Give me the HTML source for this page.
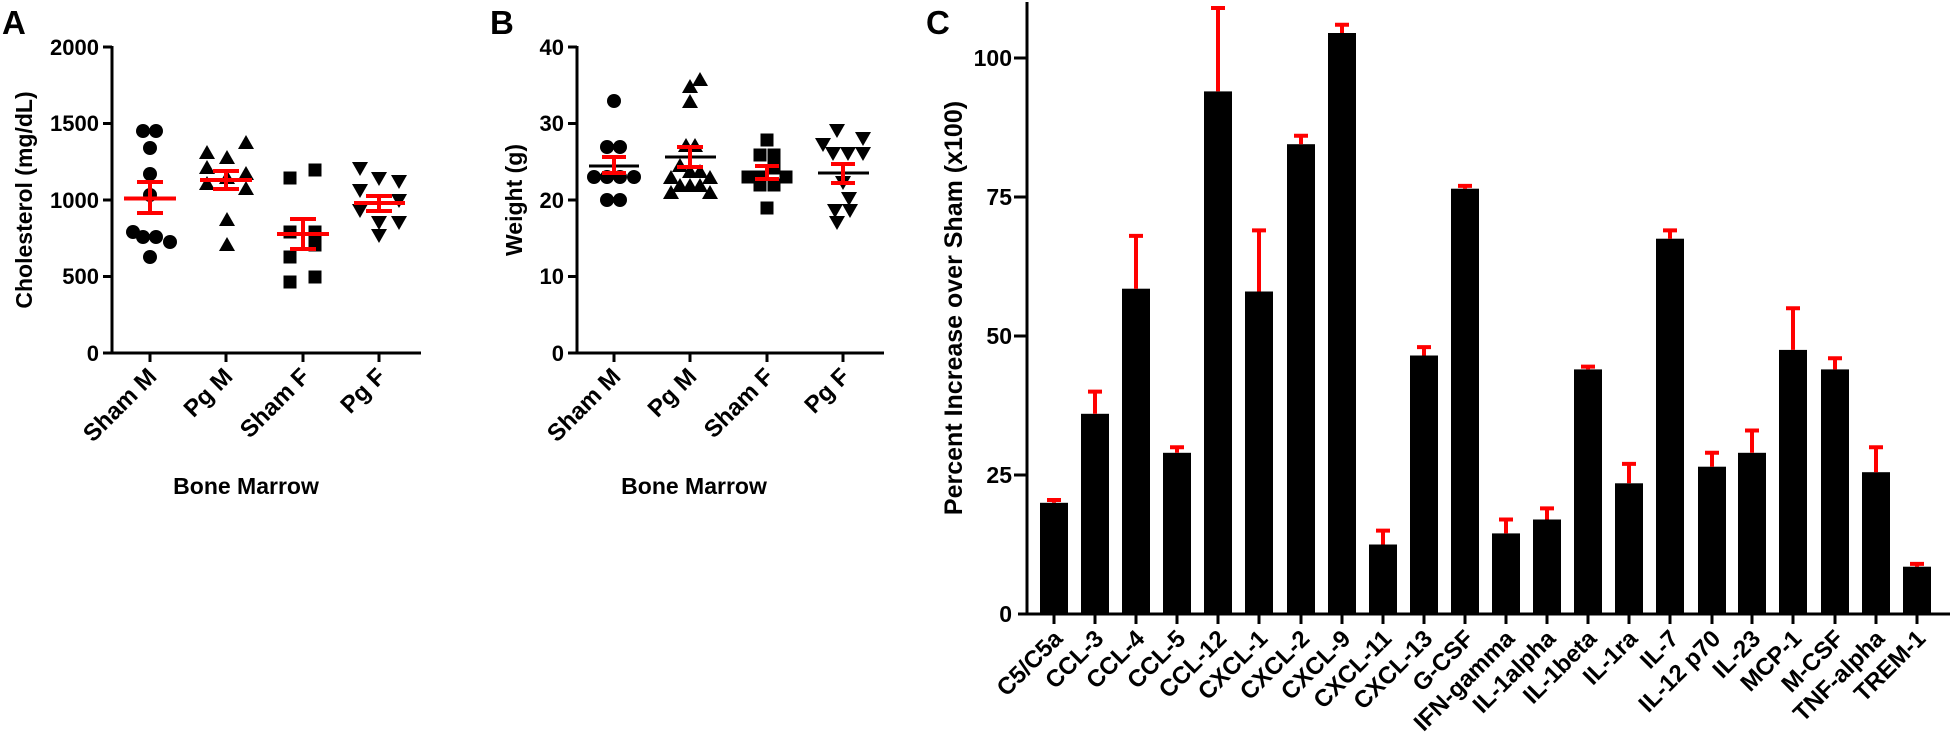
<!DOCTYPE html>
<html><head><meta charset="utf-8"><style>
html,body{margin:0;padding:0;background:#fff;}
svg{display:block;font-family:"Liberation Sans",Arial,sans-serif;font-weight:bold;}
</style></head><body>
<svg width="1950" height="735" viewBox="0 0 1950 735" xmlns="http://www.w3.org/2000/svg">
<defs>
<circle id="ci" r="7" fill="#000"/>
<polygon id="tr" points="0,-8 8,6 -8,6" fill="#000"/>
<rect id="sq" x="-6.5" y="-6.5" width="13" height="13" fill="#000"/>
<polygon id="dt" points="-8,-6 8,-6 0,8" fill="#000"/>
</defs>
<text x="2" y="34" font-size="33">A</text>
<text x="490" y="34" font-size="33">B</text>
<text x="926" y="34" font-size="33">C</text>

<!-- ===== Panel A ===== -->
<g stroke="#000" stroke-width="3" fill="none">
<line x1="112" y1="46" x2="112" y2="354"/>
<line x1="103" y1="353" x2="421" y2="353"/>
<line x1="103" y1="47" x2="112" y2="47"/>
<line x1="103" y1="123.5" x2="112" y2="123.5"/>
<line x1="103" y1="200" x2="112" y2="200"/>
<line x1="103" y1="276.5" x2="112" y2="276.5"/>
<line x1="150" y1="353" x2="150" y2="362"/>
<line x1="226" y1="353" x2="226" y2="362"/>
<line x1="303" y1="353" x2="303" y2="362"/>
<line x1="379" y1="353" x2="379" y2="362"/>
</g>
<g font-size="22" text-anchor="end">
<text x="99" y="55">2000</text>
<text x="99" y="131">1500</text>
<text x="99" y="208">1000</text>
<text x="99" y="284">500</text>
<text x="99" y="361">0</text>
</g>
<text transform="translate(32,200) rotate(-90)" font-size="23" text-anchor="middle">Cholesterol (mg/dL)</text>
<g font-size="24" text-anchor="end">
<text transform="translate(158,378) rotate(-45)">Sham M</text>
<text transform="translate(234,378) rotate(-45)">Pg M</text>
<text transform="translate(311,378) rotate(-45)">Sham F</text>
<text transform="translate(387,378) rotate(-45)">Pg F</text>
</g>
<text x="246" y="494" font-size="23" text-anchor="middle">Bone Marrow</text>
<g>
<use href="#ci" x="143" y="131"/><use href="#ci" x="156" y="131"/><use href="#ci" x="150" y="148"/>
<use href="#ci" x="150" y="174"/><use href="#ci" x="150" y="195"/><use href="#ci" x="133" y="232"/>
<use href="#ci" x="143" y="237"/><use href="#ci" x="156" y="237"/><use href="#ci" x="170" y="242"/>
<use href="#ci" x="150" y="257"/>
<use href="#tr" x="207" y="153"/><use href="#tr" x="227" y="158"/><use href="#tr" x="246" y="143"/>
<use href="#tr" x="207" y="168"/><use href="#tr" x="246" y="174"/><use href="#tr" x="207" y="184"/>
<use href="#tr" x="227" y="178"/><use href="#tr" x="246" y="189"/><use href="#tr" x="227" y="220"/>
<use href="#tr" x="227" y="245"/>
<use href="#sq" x="290" y="178"/><use href="#sq" x="315" y="170"/><use href="#sq" x="290" y="232"/>
<use href="#sq" x="315" y="232"/><use href="#sq" x="315" y="245"/><use href="#sq" x="290" y="257"/>
<use href="#sq" x="315" y="277"/><use href="#sq" x="290" y="282"/>
<use href="#dt" x="360" y="168"/><use href="#dt" x="379" y="178"/><use href="#dt" x="360" y="190"/>
<use href="#dt" x="399" y="200"/><use href="#dt" x="360" y="210"/><use href="#dt" x="379" y="222"/>
<use href="#dt" x="399" y="222"/><use href="#dt" x="379" y="235"/><use href="#dt" x="399" y="181"/>
</g>
<g stroke="#f00" stroke-width="4">
<line x1="124" y1="198.5" x2="176" y2="198.5"/>
<line x1="150" y1="182" x2="150" y2="213"/>
<line x1="137" y1="182" x2="163" y2="182"/><line x1="137" y1="213" x2="163" y2="213"/>
<line x1="200" y1="180" x2="252" y2="180"/>
<line x1="226" y1="171" x2="226" y2="189"/>
<line x1="213" y1="171" x2="239" y2="171"/><line x1="213" y1="189" x2="239" y2="189"/>
<line x1="277" y1="234" x2="329" y2="234"/>
<line x1="303" y1="219" x2="303" y2="249"/>
<line x1="290" y1="219" x2="316" y2="219"/><line x1="290" y1="249" x2="316" y2="249"/>
<line x1="354" y1="203" x2="405" y2="203"/>
<line x1="379" y1="196" x2="379" y2="211"/>
<line x1="366" y1="196" x2="392" y2="196"/><line x1="366" y1="211" x2="392" y2="211"/>
</g>

<!-- ===== Panel B ===== -->
<g stroke="#000" stroke-width="3" fill="none">
<line x1="577" y1="46" x2="577" y2="354"/>
<line x1="568" y1="353" x2="884" y2="353"/>
<line x1="568" y1="47" x2="577" y2="47"/>
<line x1="568" y1="123.5" x2="577" y2="123.5"/>
<line x1="568" y1="200" x2="577" y2="200"/>
<line x1="568" y1="276.5" x2="577" y2="276.5"/>
<line x1="614" y1="353" x2="614" y2="362"/>
<line x1="690" y1="353" x2="690" y2="362"/>
<line x1="767" y1="353" x2="767" y2="362"/>
<line x1="843" y1="353" x2="843" y2="362"/>
</g>
<g font-size="22" text-anchor="end">
<text x="564" y="55">40</text>
<text x="564" y="131">30</text>
<text x="564" y="208">20</text>
<text x="564" y="284">10</text>
<text x="564" y="361">0</text>
</g>
<text transform="translate(522,200) rotate(-90)" font-size="23" text-anchor="middle">Weight (g)</text>
<g font-size="24" text-anchor="end">
<text transform="translate(622,378) rotate(-45)">Sham M</text>
<text transform="translate(698,378) rotate(-45)">Pg M</text>
<text transform="translate(775,378) rotate(-45)">Sham F</text>
<text transform="translate(851,378) rotate(-45)">Pg F</text>
</g>
<text x="694" y="494" font-size="23" text-anchor="middle">Bone Marrow</text>
<g>
<use href="#ci" x="614" y="101"/><use href="#ci" x="607" y="147"/><use href="#ci" x="620" y="147"/>
<use href="#ci" x="594" y="177"/><use href="#ci" x="607" y="177"/><use href="#ci" x="620" y="177"/>
<use href="#ci" x="634" y="177"/><use href="#ci" x="607" y="200"/><use href="#ci" x="620" y="200"/>
<use href="#tr" x="700" y="80"/><use href="#tr" x="690" y="87"/><use href="#tr" x="690" y="102"/>
<use href="#tr" x="686" y="146"/><use href="#tr" x="695" y="146"/><use href="#tr" x="680" y="166"/>
<use href="#tr" x="671" y="178"/><use href="#tr" x="690" y="172"/><use href="#tr" x="700" y="172"/>
<use href="#tr" x="710" y="178"/><use href="#tr" x="680" y="186"/><use href="#tr" x="690" y="186"/>
<use href="#tr" x="700" y="186"/><use href="#tr" x="671" y="193"/><use href="#tr" x="710" y="193"/>
<use href="#sq" x="767" y="140"/><use href="#sq" x="760" y="155"/><use href="#sq" x="774" y="155"/>
<use href="#sq" x="774" y="167"/><use href="#sq" x="748" y="177"/><use href="#sq" x="760" y="177"/>
<use href="#sq" x="786" y="177"/><use href="#sq" x="760" y="185"/><use href="#sq" x="774" y="185"/>
<use href="#sq" x="767" y="208"/>
<use href="#dt" x="837" y="130"/><use href="#dt" x="823" y="144"/><use href="#dt" x="863" y="138"/>
<use href="#dt" x="833" y="153"/><use href="#dt" x="848" y="153"/><use href="#dt" x="863" y="153"/>
<use href="#dt" x="843" y="182"/><use href="#dt" x="849" y="198"/><use href="#dt" x="835" y="210"/>
<use href="#dt" x="850" y="210"/><use href="#dt" x="837" y="222"/>
</g>
<g stroke="#000" stroke-width="3">
<line x1="589" y1="166" x2="639" y2="166"/>
<line x1="665" y1="157" x2="716" y2="157"/>
<line x1="742" y1="173" x2="792" y2="173"/>
<line x1="818" y1="173" x2="869" y2="173"/>
</g>
<g stroke="#f00" stroke-width="4">
<line x1="614" y1="157" x2="614" y2="173"/>
<line x1="602" y1="157" x2="626" y2="157"/><line x1="602" y1="173" x2="626" y2="173"/>
<line x1="690" y1="147" x2="690" y2="167"/>
<line x1="677" y1="147" x2="703" y2="147"/><line x1="677" y1="167" x2="703" y2="167"/>
<line x1="767" y1="166" x2="767" y2="179"/>
<line x1="755" y1="166" x2="779" y2="166"/><line x1="755" y1="179" x2="779" y2="179"/>
<line x1="843" y1="164" x2="843" y2="183"/>
<line x1="831" y1="164" x2="855" y2="164"/><line x1="831" y1="183" x2="855" y2="183"/>
</g>

<!-- ===== Panel C ===== -->
<g stroke="#000" stroke-width="3" fill="none">
<line x1="1027" y1="2" x2="1027" y2="615"/>
<line x1="1018" y1="614" x2="1950" y2="614"/>
<line x1="1014" y1="58" x2="1027" y2="58"/>
<line x1="1014" y1="197" x2="1027" y2="197"/>
<line x1="1014" y1="336" x2="1027" y2="336"/>
<line x1="1014" y1="475" x2="1027" y2="475"/>
</g>
<g font-size="23" text-anchor="end">
<text x="1012" y="66">100</text>
<text x="1012" y="205">75</text>
<text x="1012" y="344">50</text>
<text x="1012" y="483">25</text>
<text x="1012" y="622">0</text>
</g>
<text transform="translate(962,308) rotate(-90)" font-size="25" text-anchor="middle">Percent Increase over Sham (x100)</text>
<g fill="#000">
<rect x="1040" y="502.8" width="28" height="111.2"/>
<rect x="1081" y="413.8" width="28" height="200.2"/>
<rect x="1122" y="288.7" width="28" height="325.3"/>
<rect x="1163" y="452.8" width="28" height="161.2"/>
<rect x="1204" y="91.4" width="28" height="522.6"/>
<rect x="1245" y="291.5" width="28" height="322.5"/>
<rect x="1287" y="144.2" width="28" height="469.8"/>
<rect x="1328" y="33" width="28" height="581"/>
<rect x="1369" y="544.5" width="28" height="69.5"/>
<rect x="1410" y="355.5" width="28" height="258.5"/>
<rect x="1451" y="188.7" width="28" height="425.3"/>
<rect x="1492" y="533.4" width="28" height="80.6"/>
<rect x="1533" y="519.5" width="28" height="94.5"/>
<rect x="1574" y="369.4" width="28" height="244.6"/>
<rect x="1615" y="483.3" width="28" height="130.7"/>
<rect x="1656" y="238.7" width="28" height="375.3"/>
<rect x="1698" y="466.7" width="28" height="147.3"/>
<rect x="1738" y="452.8" width="28" height="161.2"/>
<rect x="1779" y="349.9" width="28" height="264.1"/>
<rect x="1821" y="369.4" width="28" height="244.6"/>
<rect x="1862" y="472.2" width="28" height="141.8"/>
<rect x="1903" y="566.7" width="28" height="47.3"/>
</g>
<g stroke="#f00" stroke-width="4">
<path d="M1054 502.8V500 M1047 500H1061"/>
<path d="M1095 413.8V391.6 M1088 391.6H1102"/>
<path d="M1136 288.7V235.9 M1129 235.9H1143"/>
<path d="M1177 452.8V447.2 M1170 447.2H1184"/>
<path d="M1218 91.4V8 M1211 8H1225"/>
<path d="M1259 291.5V230.4 M1252 230.4H1266"/>
<path d="M1301 144.2V135.8 M1294 135.8H1308"/>
<path d="M1342 33V24.7 M1335 24.7H1349"/>
<path d="M1383 544.5V530.6 M1376 530.6H1390"/>
<path d="M1424 355.5V347.1 M1417 347.1H1431"/>
<path d="M1465 188.7V185.9 M1458 185.9H1472"/>
<path d="M1506 533.4V519.5 M1499 519.5H1513"/>
<path d="M1547 519.5V508.4 M1540 508.4H1554"/>
<path d="M1588 369.4V366.6 M1581 366.6H1595"/>
<path d="M1629 483.3V463.9 M1622 463.9H1636"/>
<path d="M1670 238.7V230.4 M1663 230.4H1677"/>
<path d="M1712 466.7V452.8 M1705 452.8H1719"/>
<path d="M1752 452.8V430.5 M1745 430.5H1759"/>
<path d="M1793 349.9V308.2 M1786 308.2H1800"/>
<path d="M1835 369.4V358.3 M1828 358.3H1842"/>
<path d="M1876 472.2V447.2 M1869 447.2H1883"/>
<path d="M1917 566.7V563.9 M1910 563.9H1924"/>
</g>
<g stroke="#000" stroke-width="3">
<path d="M1054 614v10M1095 614v10M1136 614v10M1177 614v10M1218 614v10M1259 614v10M1301 614v10M1342 614v10M1383 614v10M1424 614v10M1465 614v10M1506 614v10M1547 614v10M1588 614v10M1629 614v10M1670 614v10M1712 614v10M1752 614v10M1793 614v10M1835 614v10M1876 614v10M1917 614v10"/>
</g>
<g font-size="24" text-anchor="end">
<text transform="translate(1064,640) rotate(-45)">C5/C5a</text>
<text transform="translate(1105,640) rotate(-45)">CCL-3</text>
<text transform="translate(1146,640) rotate(-45)">CCL-4</text>
<text transform="translate(1187,640) rotate(-45)">CCL-5</text>
<text transform="translate(1228,640) rotate(-45)">CCL-12</text>
<text transform="translate(1269,640) rotate(-45)">CXCL-1</text>
<text transform="translate(1311,640) rotate(-45)">CXCL-2</text>
<text transform="translate(1352,640) rotate(-45)">CXCL-9</text>
<text transform="translate(1393,640) rotate(-45)">CXCL-11</text>
<text transform="translate(1434,640) rotate(-45)">CXCL-13</text>
<text transform="translate(1475,640) rotate(-45)">G-CSF</text>
<text transform="translate(1516,640) rotate(-45)">IFN-gamma</text>
<text transform="translate(1557,640) rotate(-45)">IL-1alpha</text>
<text transform="translate(1598,640) rotate(-45)">IL-1beta</text>
<text transform="translate(1639,640) rotate(-45)">IL-1ra</text>
<text transform="translate(1680,640) rotate(-45)">IL-7</text>
<text transform="translate(1722,640) rotate(-45)">IL-12 p70</text>
<text transform="translate(1762,640) rotate(-45)">IL-23</text>
<text transform="translate(1803,640) rotate(-45)">MCP-1</text>
<text transform="translate(1845,640) rotate(-45)">M-CSF</text>
<text transform="translate(1886,640) rotate(-45)">TNF-alpha</text>
<text transform="translate(1927,640) rotate(-45)">TREM-1</text>
</g>
</svg>
</body></html>
